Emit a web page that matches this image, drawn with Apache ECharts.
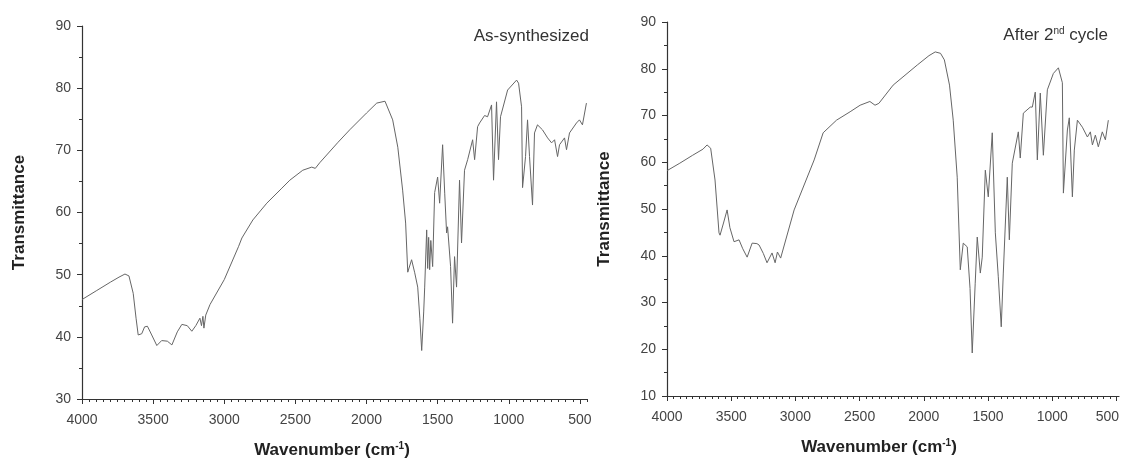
<!DOCTYPE html>
<html>
<head>
<meta charset="utf-8">
<style>
  html, body { margin: 0; background: #fff; }
  #chart { width: 1123px; height: 461px; }
</style>
<script src="https://cdn.jsdelivr.net/npm/echarts@6/dist/echarts.min.js"></script>
</head>
<body>
<div id="chart"></div>
<script>
// Spectrum: wavenumber (cm-1) and transmittance (%)
var asSynthWave = [4000, 3900, 3800, 3740, 3698, 3670, 3640, 3620, 3605, 3580, 3560, 3540, 3510, 3474, 3440, 3400, 3368, 3330, 3298, 3260, 3228, 3200, 3171, 3160, 3150, 3143, 3130, 3100, 3000, 2900, 2876, 2799, 2701, 2600, 2539, 2448, 2385, 2360, 2329, 2200, 2118, 2000, 1928, 1870, 1816, 1780, 1746, 1725, 1710, 1683, 1661, 1640, 1625, 1612, 1598, 1591, 1577, 1570, 1563, 1556, 1548, 1542, 1535, 1521, 1500, 1486, 1465, 1450, 1437, 1430, 1409, 1395, 1381, 1367, 1346, 1332, 1311, 1289, 1254, 1240, 1219, 1205, 1170, 1149, 1121, 1107, 1086, 1072, 1058, 1008, 945, 931, 910, 903, 882, 868, 854, 833, 819, 798, 763, 727, 699, 678, 657, 643, 608, 594, 573, 524, 503, 482, 454];
var asSynthTrans = [46.0, 47.4, 48.8, 49.6, 50.1, 49.8, 47.0, 43.0, 40.3, 40.5, 41.6, 41.7, 40.3, 38.6, 39.4, 39.3, 38.7, 40.8, 42.0, 41.8, 40.9, 41.8, 43.0, 41.8, 43.3, 41.4, 43.5, 45.2, 49.2, 54.5, 55.9, 58.8, 61.5, 63.8, 65.2, 66.8, 67.3, 67.1, 68.0, 71.3, 73.3, 76.0, 77.6, 77.9, 74.9, 70.5, 63.6, 58.3, 50.4, 52.4, 50.3, 48.0, 43.0, 37.8, 44.0, 48.0, 57.2, 51.0, 56.0, 50.8, 55.5, 55.6, 51.3, 63.2, 65.7, 61.5, 70.9, 63.0, 56.7, 57.7, 51.3, 42.2, 52.9, 48.0, 65.2, 55.1, 66.8, 68.5, 71.7, 68.5, 73.8, 74.4, 75.6, 75.4, 77.3, 65.2, 77.8, 68.5, 75.4, 79.7, 81.3, 80.8, 77.0, 64.0, 69.0, 74.9, 69.0, 61.2, 72.8, 74.1, 73.3, 72.0, 71.2, 71.7, 69.0, 70.9, 72.0, 70.1, 72.8, 74.4, 74.9, 74.1, 77.6];

var cycleWave = [4000, 3900, 3800, 3720, 3688, 3660, 3626, 3595, 3587, 3560, 3532, 3510, 3478, 3439, 3410, 3376, 3337, 3300, 3283, 3250, 3221, 3182, 3158, 3140, 3127, 3115, 3010, 2854, 2784, 2680, 2574, 2496, 2420, 2380, 2350, 2239, 2051, 1960, 1911, 1870, 1840, 1800, 1771, 1740, 1716, 1693, 1662, 1640, 1623, 1600, 1584, 1560, 1545, 1521, 1498, 1467, 1443, 1420, 1397, 1381, 1350, 1334, 1311, 1264, 1249, 1225, 1171, 1155, 1132, 1116, 1093, 1069, 1038, 991, 952, 921, 913, 882, 867, 843, 828, 804, 765, 726, 703, 687, 664, 641, 610, 586, 563];
var cycleTrans = [58.2, 59.8, 61.5, 62.8, 63.7, 63.0, 56.2, 44.9, 44.4, 47.0, 49.8, 46.0, 43.0, 43.4, 41.5, 39.7, 42.7, 42.6, 42.3, 40.5, 38.5, 40.6, 38.5, 40.8, 40.8, 39.5, 49.8, 60.5, 66.3, 69.0, 70.8, 72.2, 73.0, 72.2, 72.6, 76.5, 80.8, 82.8, 83.6, 83.3, 81.9, 76.5, 69.0, 56.8, 37.0, 42.7, 41.9, 33.0, 19.2, 34.0, 44.0, 36.3, 39.7, 58.3, 52.6, 66.3, 44.9, 35.5, 24.8, 36.3, 56.8, 43.4, 59.8, 66.5, 60.9, 70.5, 71.8, 71.8, 75.0, 60.5, 74.8, 61.5, 75.5, 79.0, 80.2, 77.0, 53.4, 66.9, 69.5, 52.6, 62.6, 69.0, 67.5, 65.4, 66.5, 63.7, 65.8, 63.3, 66.5, 64.8, 69.0];

// Axis tick labels
var waveTicks = [4000, 3500, 3000, 2500, 2000, 1500, 1000, 500];
var minorWaveTicks = [];
for (var w = 4000; w >= 450; w -= 50) minorWaveTicks.push(w);

function pairs(xs, ys) {
  return xs.map(function (x, i) { return [x, ys[i]]; });
}

var font = 'Liberation Sans, Arial, sans-serif';
var axisColor = '#333';
var labelColor = '#444';

function majorX(grid, min, shiftLast, namePadRight) {
  return {
    type: 'value', gridIndex: grid, inverse: true, min: min, max: 4000,
    position: 'bottom',
    splitLine: { show: false },
    axisLine: { lineStyle: { color: axisColor, width: 1.2 } },
    axisTick: { customValues: waveTicks, length: 5, lineStyle: { color: axisColor } },
    axisLabel: {
      customValues: waveTicks, color: labelColor, fontSize: 14, fontFamily: font, margin: 14,
      formatter: function (v) {
        // last label sits against the page edge, nudge it inward
        return (shiftLast && v === 500) ? '{edge|500}' : String(v);
      },
      rich: { edge: { color: labelColor, fontSize: 14, fontFamily: font, padding: [0, 18, 0, 0] } }
    },
    name: 'Wavenumber (cm{sup|-1})',
    nameLocation: 'middle', nameGap: 42,
    nameTextStyle: {
      fontSize: 17, fontWeight: 'bold', color: '#222', fontFamily: font,
      padding: [0, namePadRight, 0, 0],
      rich: { sup: { fontSize: 10, fontWeight: 'bold', color: '#222', fontFamily: font, verticalAlign: 'top', padding: [0, 0, 9, 0] } }
    }
  };
}

function minorX(grid, min) {
  return {
    type: 'value', gridIndex: grid, inverse: true, min: min, max: 4000,
    position: 'bottom',
    splitLine: { show: false },
    axisLine: { show: false },
    axisTick: { customValues: minorWaveTicks, length: 3, lineStyle: { color: axisColor } },
    axisLabel: { show: false }
  };
}

function yAx(grid, min) {
  return {
    type: 'value', gridIndex: grid, min: min, max: 90, interval: 10,
    splitLine: { show: false },
    axisLine: { show: true, lineStyle: { color: axisColor, width: 1.2 } },
    axisTick: { show: true, length: 5, lineStyle: { color: axisColor } },
    minorTick: { show: true, splitNumber: 2, length: 3, lineStyle: { color: axisColor } },
    axisLabel: { color: labelColor, fontSize: 14, fontFamily: font, margin: 11 },
    name: 'Transmittance', nameLocation: 'middle', nameGap: 54,
    nameTextStyle: { fontSize: 17, fontWeight: 'bold', color: '#222', fontFamily: font }
  };
}

var chart = echarts.init(document.getElementById('chart'), null, { renderer: 'canvas' });

chart.setOption({
  animation: false,
  backgroundColor: '#fff',
  title: [
    { text: 'As-synthesized', right: 529, top: 23, textStyle: { fontSize: 17, fontWeight: 'normal', color: '#333', fontFamily: font } },
    {
      text: 'After 2{sup|nd} cycle', right: 10, top: 21,
      textStyle: {
        fontSize: 17, fontWeight: 'normal', color: '#333', fontFamily: font,
        rich: { sup: { fontSize: 10, color: '#333', fontFamily: font, verticalAlign: 'top', padding: [0, 0, 8, 0] } }
      }
    }
  ],
  grid: [
    { left: 82, top: 26, width: 505, height: 373, outerBoundsMode: 'none', containLabel: false },
    { left: 667, top: 22, width: 452, height: 374, outerBoundsMode: 'none', containLabel: false }
  ],
  xAxis: [majorX(0, 450, false, 5), minorX(0, 450), majorX(1, 480, true, 28), minorX(1, 480)],
  yAxis: [yAx(0, 30), yAx(1, 10)],
  series: [
    {
      type: 'line', xAxisIndex: 0, yAxisIndex: 0, showSymbol: false,
      lineStyle: { color: '#666', width: 1 },
      data: pairs(asSynthWave, asSynthTrans)
    },
    {
      type: 'line', xAxisIndex: 2, yAxisIndex: 1, showSymbol: false,
      lineStyle: { color: '#666', width: 1 },
      data: pairs(cycleWave, cycleTrans)
    }
  ]
});
</script>
</body>
</html>
